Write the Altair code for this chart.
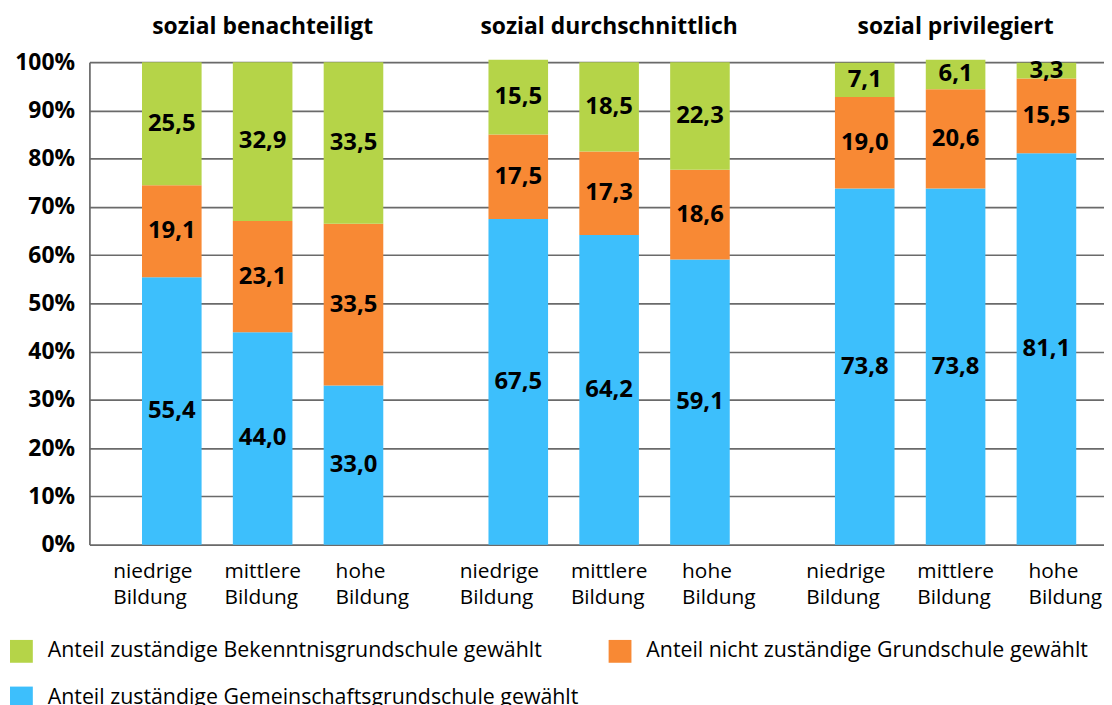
import altair as alt
import pandas as pd

groups = ["sozial benachteiligt", "sozial durchschnittlich", "sozial privilegiert"]
bildung = ["niedrige Bildung", "mittlere Bildung", "hohe Bildung"]
series = [
    "Anteil zuständige Bekenntnisgrundschule gewählt",
    "Anteil nicht zuständige Grundschule gewählt",
    "Anteil zuständige Gemeinschaftsgrundschule gewählt",
]
colors = ["#b5d448", "#f88934", "#3dbffc"]

# values per bar, in order: group x bildung
gemeinschaft = [55.4, 44.0, 33.0, 67.5, 64.2, 59.1, 73.8, 73.8, 81.1]
nicht_zustaendig = [19.1, 23.1, 33.5, 17.5, 17.3, 18.6, 19.0, 20.6, 15.5]
bekenntnis = [25.5, 32.9, 33.5, 15.5, 18.5, 22.3, 7.1, 6.1, 3.3]

rows = []
for i in range(9):
    g = groups[i // 3]
    b = bildung[i % 3]
    for order, (s, vals) in enumerate(
        [(series[2], gemeinschaft), (series[1], nicht_zustaendig), (series[0], bekenntnis)]
    ):
        v = vals[i]
        rows.append(
            {"group": g, "bildung": b, "series": s, "value": v, "order": order,
             "label": f"{v:.1f}".replace(".", ",")}
        )
df = pd.DataFrame(rows)

cat_rows = [{"group": g, "bildung": b, "text": b.replace(" ", "\n")} for g in groups for b in bildung]
df_cat = pd.DataFrame(cat_rows)

FONT = "Open Sans"

x_enc = alt.X(
    "group:N",
    sort=groups,
    scale=alt.Scale(range=[0, 1047], paddingInner=0, paddingOuter=0),
    axis=alt.Axis(
        orient="top", title=None, labelAngle=0, domain=False, ticks=False, grid=False,
        labelFontSize=23, labelFontWeight="bold", labelPadding=24, labelColor="black",
        labelLimit=500, labelFont=FONT,
    ),
)
xo_bars = alt.Scale(type="band", paddingInner=0.344, paddingOuter=0.579)
xo_vals = alt.Scale(type="point", padding=0.907)
xo_cats = alt.Scale(type="point", range=[24, 248], padding=0)

stacked = alt.Chart(df).transform_stack(
    stack="value",
    groupby=["group", "bildung"],
    as_=["y0", "y1"],
    sort=[alt.SortField(field="order", order="ascending")],
).transform_calculate(mid="(datum.y0 + datum.y1) / 2")

bars = stacked.mark_bar().encode(
    x=x_enc,
    xOffset=alt.XOffset("bildung:N", sort=bildung, scale=xo_bars),
    y=alt.Y(
        "y0:Q",
        scale=alt.Scale(domain=[0, 100], nice=False),
        axis=alt.Axis(
            values=list(range(0, 101, 10)), labelExpr="datum.value + '%'", title=None,
            grid=True, gridColor="#6a6a6a", gridWidth=1.7, domainColor="#6a6a6a",
            domainWidth=1.7, ticks=False, labelFontSize=23, labelFontWeight="bold",
            labelPadding=15, labelColor="black", labelFont=FONT,
        ),
    ),
    y2="y1:Q",
    color=alt.Color(
        "series:N",
        scale=alt.Scale(domain=series, range=colors),
        legend=alt.Legend(
            title=None, orient="none", legendX=-80, legendY=582, columns=2,
            direction="horizontal",
            symbolType="square", symbolSize=529, symbolStrokeWidth=0, symbolOpacity=1,
            labelFontSize=21.5, labelLimit=800, labelOffset=15, columnPadding=30,
            rowPadding=24, labelColor="black", labelFont=FONT,
        ),
    ),
)

values = stacked.mark_text(
    font=FONT, fontSize=24, fontWeight="bold", color="black", baseline="middle", align="center"
).encode(
    x=x_enc,
    xOffset=alt.XOffset("bildung:N", sort=bildung, scale=xo_vals),
    y=alt.Y("mid:Q"),
    text="label:N",
)

cats = alt.Chart(df_cat).mark_text(
    font=FONT, fontSize=21, color="black", align="left", baseline="top",
    lineBreak="\n", lineHeight=26,
).encode(
    x=x_enc,
    xOffset=alt.XOffset("bildung:N", sort=bildung, scale=xo_cats),
    y=alt.value(503),
    text="text:N",
)

chart = alt.layer(bars, values, cats).resolve_scale(xOffset="independent").properties(
    width=1022,
    height=486,
    padding={"left": 82, "top": 52, "right": 0, "bottom": 159},
    autosize=alt.AutoSizeParams(type="none"),
).configure_view(strokeWidth=0).configure(font=FONT)

chart.save("out.html", embed_options={"renderer": "svg", "actions": False})
